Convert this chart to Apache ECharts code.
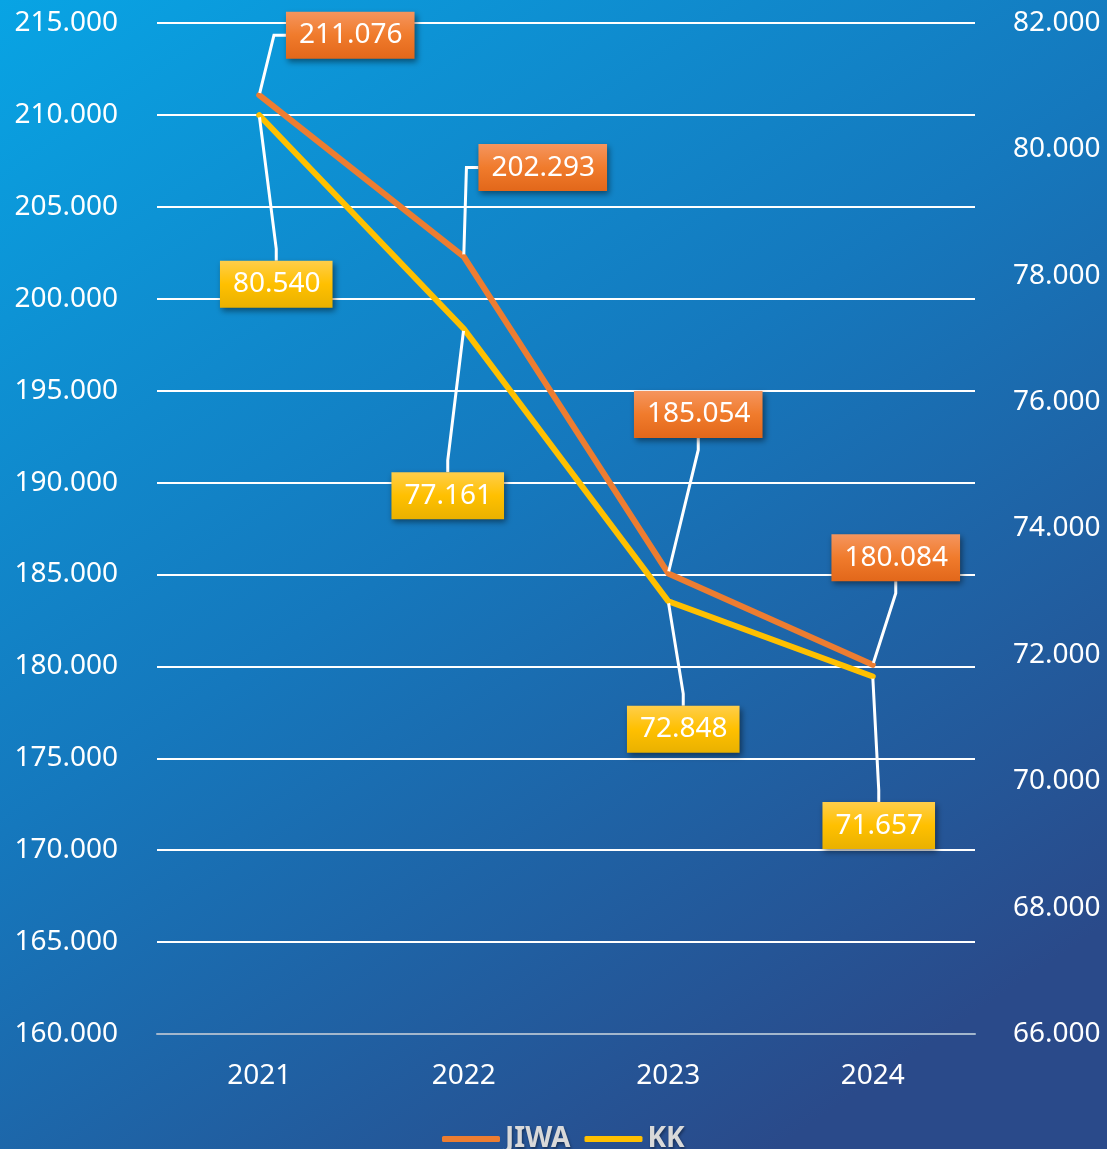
<!DOCTYPE html>
<html>
<head>
<meta charset="utf-8">
<script src="https://cdn.jsdelivr.net/npm/echarts@6/dist/echarts.min.js"></script>
<style>
html,body{margin:0;padding:0;background:#fff;}
#c{width:1107px;height:1149px;}
</style>
</head>
<body>
<div id="c"></div>
<script>
// ---- data ----
const categories = ['2021', '2022', '2023', '2024'];
const seriesNames = ['JIWA', 'KK'];
const jiwaValues = [211076, 202293, 185054, 180084];
const kkValues = [80540, 77161, 72848, 71657];
const leftAxisRange = [160000, 215000, 5000];
const rightAxisRange = [66000, 82000, 2000];

// ---- label offsets (label centre relative to the point, px) ----
const jiwaLabelOffsets = [[91, -60], [79, -89], [30, -159], [23, -107]];
const kkLabelOffsets = [[17, 169], [-16, 167], [15, 128], [6, 149]];

const FONT = '"Noto Sans", "Open Sans", sans-serif';
function fmt(v) {
  return String(Math.round(v)).replace(/\B(?=(\d{3})+(?!\d))/g, '.');
}
function grad(stops) {
  return { type: 'linear', x: 0, y: 0, x2: 0, y2: 1,
    colorStops: stops.map((c, i) => ({ offset: i / (stops.length - 1), color: c })) };
}

const chart = echarts.init(document.getElementById('c'), null, { renderer: 'canvas' });

function labelCfg(bg) {
  return {
    show: true,
    position: 'inside',
    formatter: p => fmt(p.value),
    color: '#ffffff',
    fontFamily: FONT,
    fontSize: 28,
    lineHeight: 36,
    padding: [8, 12, 3, 13],
    backgroundColor: bg,
    shadowColor: 'rgba(0,0,0,0.45)',
    shadowBlur: 6,
    shadowOffsetX: 2,
    shadowOffsetY: 3
  };
}
const labelLine = {
  show: true,
  length2: 12,
  lineStyle: { color: '#ffffff', width: 3 }
};

chart.setOption({
  animation: false,
  backgroundColor: {
    type: 'linear', x: 0, y: 0, x2: 0.7, y2: 1,
    colorStops: [
      { offset: 0, color: '#08a4e4' },
      { offset: 0.5, color: '#1578bd' },
      { offset: 1, color: '#2a4a8a' }
    ]
  },
  grid: { left: 157, right: 132, top: 23, bottom: 115, containLabel: false },
  legend: {
    left: 437,
    top: 1119,
    icon: 'roundRect',
    itemWidth: 58,
    itemHeight: 6,
    itemGap: 14,
    data: seriesNames,
    textStyle: {
      color: '#d9d9d9',
      fontWeight: 'bold',
      fontFamily: FONT,
      fontSize: 28,
      lineHeight: 30,
      textShadowColor: 'rgba(0,0,0,0.4)',
      textShadowBlur: 3,
      textShadowOffsetX: 1,
      textShadowOffsetY: 2
    }
  },
  xAxis: {
    type: 'category',
    data: categories,
    boundaryGap: true,
    axisLine: { show: true, lineStyle: { color: '#a3b7cd', width: 2 } },
    axisTick: { show: false },
    axisLabel: { color: '#ffffff', fontFamily: FONT, fontSize: 28, margin: 28 },
    splitLine: { show: false }
  },
  yAxis: [
    {
      type: 'value',
      min: leftAxisRange[0], max: leftAxisRange[1], interval: leftAxisRange[2],
      axisLine: { show: false },
      axisTick: { show: false },
      axisLabel: { color: '#ffffff', fontFamily: FONT, fontSize: 28, margin: 39, padding: [4, 0, 0, 0], formatter: fmt },
      splitLine: { show: true, lineStyle: { color: '#ffffff', width: 2 } }
    },
    {
      type: 'value',
      position: 'right',
      min: rightAxisRange[0], max: rightAxisRange[1], interval: rightAxisRange[2],
      axisLine: { show: false },
      axisTick: { show: false },
      axisLabel: { color: '#ffffff', fontFamily: FONT, fontSize: 28, margin: 38, padding: [4, 0, 0, 0], formatter: fmt },
      splitLine: { show: false }
    }
  ],
  series: [
    {
      name: seriesNames[0],
      type: 'line',
      yAxisIndex: 0,
      data: jiwaValues,
      symbol: 'circle',
      symbolSize: 4,
      itemStyle: { color: '#ed7d31' },
      lineStyle: { color: '#ed7d31', width: 6, cap: 'round', join: 'round' },
      z: 3,
      label: labelCfg(grad(['#f5955e', '#f07b2c', '#e2671a'])),
      labelLine: labelLine,
      labelLayout: p => ({ dx: jiwaLabelOffsets[p.dataIndex][0], dy: jiwaLabelOffsets[p.dataIndex][1] }),
      emphasis: { disabled: true }
    },
    {
      name: seriesNames[1],
      type: 'line',
      yAxisIndex: 1,
      data: kkValues,
      symbol: 'circle',
      symbolSize: 4,
      itemStyle: { color: '#ffc000' },
      lineStyle: { color: '#ffc000', width: 6, cap: 'round', join: 'round' },
      z: 2,
      label: labelCfg(grad(['#ffce4a', '#ffc000', '#e9b100'])),
      labelLine: labelLine,
      labelLayout: p => ({ dx: kkLabelOffsets[p.dataIndex][0], dy: kkLabelOffsets[p.dataIndex][1] }),
      emphasis: { disabled: true }
    }
  ]
});
</script>
</body>
</html>
